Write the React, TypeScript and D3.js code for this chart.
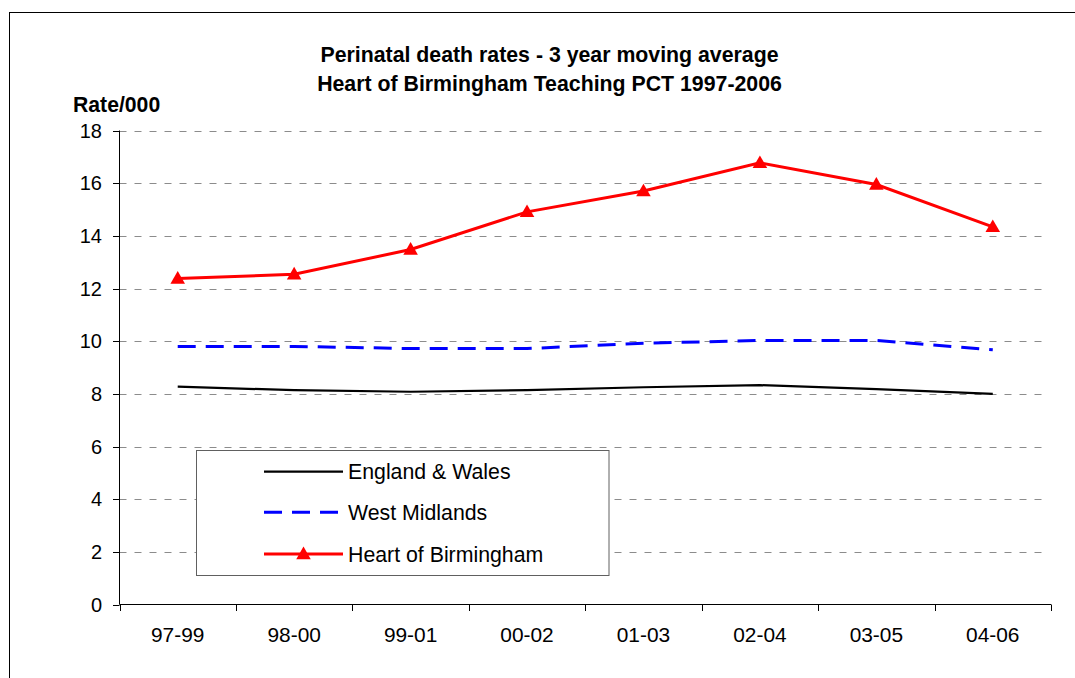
import React from "react";
import * as d3 from "d3";

const categories = ["97-99", "98-00", "99-01", "00-02", "01-03", "02-04", "03-05", "04-06"];
const englandWales = [8.27, 8.14, 8.08, 8.14, 8.25, 8.33, 8.18, 8.0];
const westMidlands = [9.8, 9.8, 9.72, 9.72, 9.92, 10.03, 10.03, 9.67];
const heartOfBirmingham = [12.38, 12.54, 13.48, 14.91, 15.7, 16.77, 15.95, 14.34];
const yTicks = [0, 2, 4, 6, 8, 10, 12, 14, 16, 18];
const titleLines = ["Perinatal death rates - 3 year moving average", "Heart of Birmingham Teaching PCT 1997-2006"];
const yAxisTitle = "Rate/000";

const W = 1075;
const H = 678;
const FONT = "Liberation Sans, Arial, Helvetica, sans-serif";

export default function App() {
  const left = 119.5;
  const right = 1051;
  const top = 130.5;
  const bottom = 604.5;

  const x = d3.scaleBand<string>().domain(categories).range([left, right]);
  const y = d3.scaleLinear().domain([0, 18]).range([bottom, top]);
  const cx = (c: string) => (x(c) as number) + x.bandwidth() / 2;

  const line = d3
    .line<number>()
    .x((_, i) => cx(categories[i]))
    .y((d) => y(d));

  const tri = d3.symbol().type(d3.symbolTriangle).size(92)();

  const boundaries = categories.map((c) => x(c) as number).concat([right]);

  const legend = [
    { name: "England & Wales", color: "#000000", width: 2.2, dash: undefined as string | undefined, marker: false },
    { name: "West Midlands", color: "#0000ff", width: 3, dash: "18 10", marker: false },
    { name: "Heart of Birmingham", color: "#ff0000", width: 3, dash: undefined, marker: true },
  ];
  const legendRowsY = [471.7, 512.3, 554];

  return (
    <svg width={W} height={H} style={{ position: "absolute", left: 0, top: 0, display: "block" }} fontFamily={FONT}>
      <rect x={0} y={0} width={W} height={H} fill="#fff" />
      <rect x={9.5} y={12.5} width={W + 20} height={H + 20} fill="none" stroke="#000" strokeWidth={1} />

      {titleLines.map((t, i) => (
        <text key={t} x={549.5} y={62 + i * 28.5} textAnchor="middle" fontSize={21.3} fontWeight="bold" fill="#000">
          {t}
        </text>
      ))}
      <text x={73} y={111.5} fontSize={21.2} fontWeight="bold" fill="#000">
        {yAxisTitle}
      </text>

      {/* gridlines */}
      {yTicks
        .filter((t) => t > 0)
        .map((t) => (
          <line
            key={"g" + t}
            x1={left}
            x2={1048}
            y1={Math.round(y(t)) + 0.5}
            y2={Math.round(y(t)) + 0.5}
            stroke="#8c8c8c"
            strokeWidth={1}
            strokeDasharray="7 8"
          />
        ))}

      {/* axes */}
      <line x1={left} x2={left} y1={top} y2={bottom} stroke="#000" strokeWidth={1} />
      <line x1={left} x2={right} y1={bottom} y2={bottom} stroke="#000" strokeWidth={1} />
      {yTicks.map((t) => (
        <g key={"yt" + t}>
          <line x1={113} x2={left} y1={Math.round(y(t)) + 0.5} y2={Math.round(y(t)) + 0.5} stroke="#000" />
          <text x={102} y={y(t) + 7} textAnchor="end" fontSize={20} fill="#000">
            {t}
          </text>
        </g>
      ))}
      {boundaries.map((b, i) => (
        <line key={"xt" + i} x1={Math.round(b) + 0.5} x2={Math.round(b) + 0.5} y1={bottom} y2={611} stroke="#000" />
      ))}
      {categories.map((c) => (
        <text key={c} x={cx(c)} y={641.5} textAnchor="middle" fontSize={20.9} fill="#000">
          {c}
        </text>
      ))}

      {/* series */}
      <path d={line(englandWales) || ""} fill="none" stroke="#000" strokeWidth={2.2} />
      <path d={line(westMidlands) || ""} fill="none" stroke="#0000ff" strokeWidth={3} strokeDasharray="18 10" />
      <path d={line(heartOfBirmingham) || ""} fill="none" stroke="#ff0000" strokeWidth={3} />
      {heartOfBirmingham.map((v, i) => (
        <path key={"m" + i} d={tri || ""} transform={`translate(${cx(categories[i])},${y(v) + 1})`} fill="#ff0000" />
      ))}

      {/* legend */}
      <rect x={196.5} y={450.5} width={412.5} height={125} fill="#fff" stroke="#606060" strokeWidth={1} />
      {legend.map((l, i) => (
        <g key={l.name}>
          <line
            x1={264}
            x2={343}
            y1={legendRowsY[i]}
            y2={legendRowsY[i]}
            stroke={l.color}
            strokeWidth={l.width}
            strokeDasharray={l.dash}
          />
          {l.marker && <path d={tri || ""} transform={`translate(303.5,${legendRowsY[i] + 1})`} fill="#ff0000" />}
          <text x={348} y={legendRowsY[i] + 7.5} fontSize={21.3} fill="#000">
            {l.name}
          </text>
        </g>
      ))}
    </svg>
  );
}
